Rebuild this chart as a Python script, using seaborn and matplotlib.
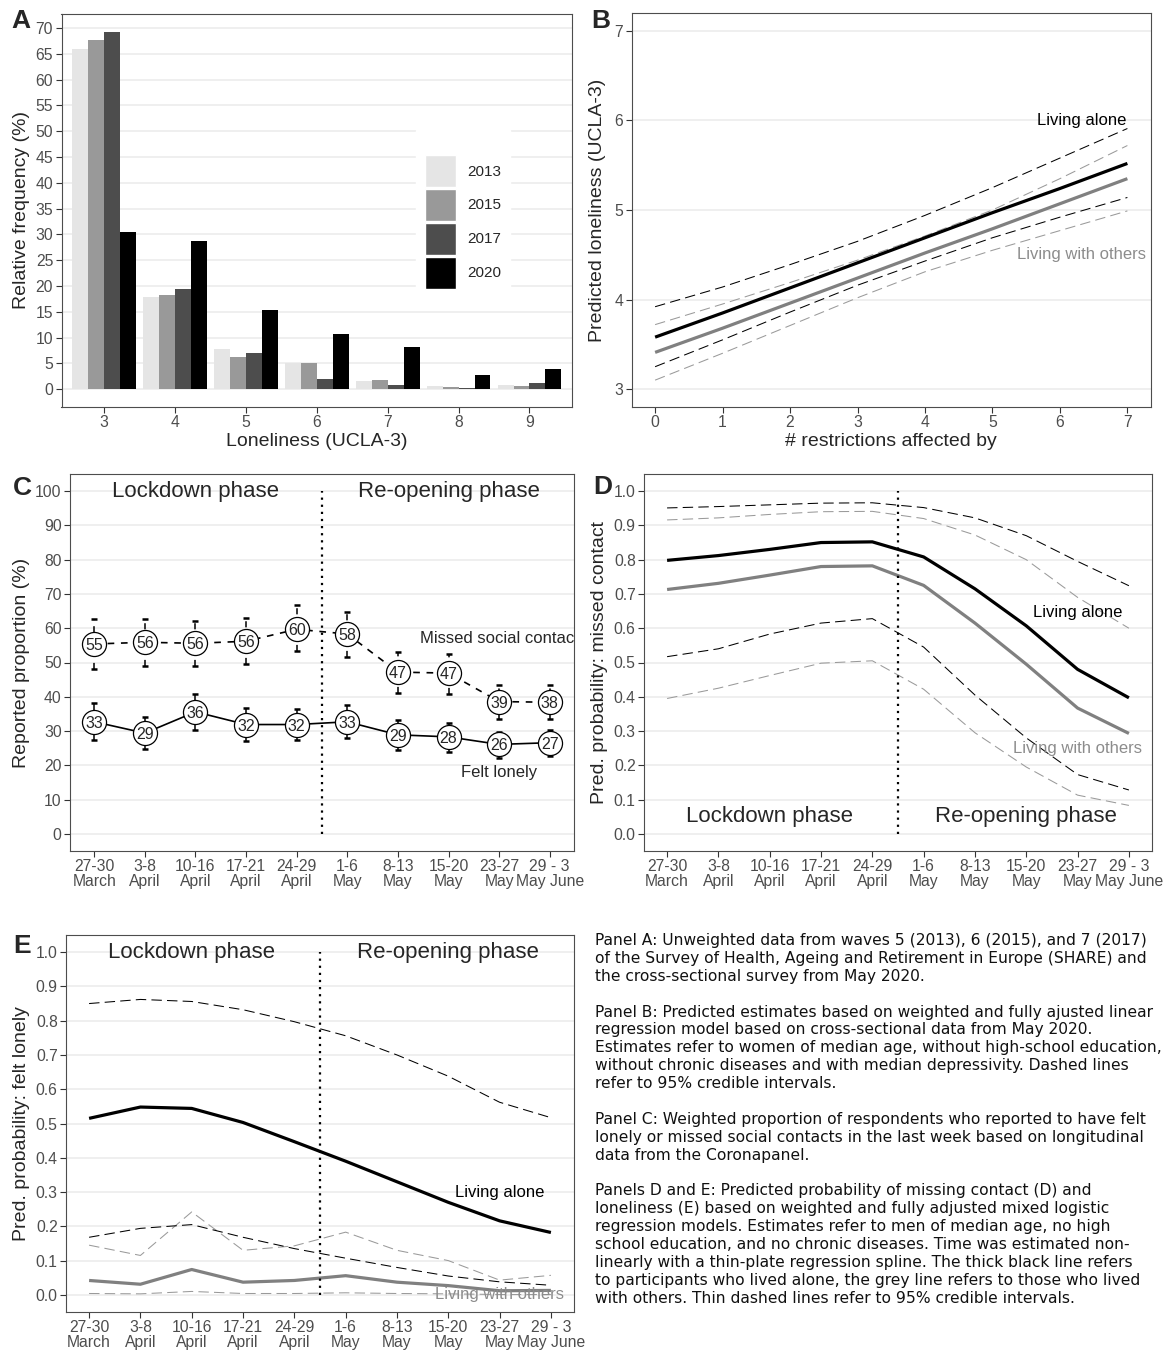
import numpy as np
import pandas as pd
import matplotlib
matplotlib.use("Agg")
import matplotlib.pyplot as plt
import seaborn as sns

# ---------------- data ----------------
# Panel A
scores = [3, 4, 5, 6, 7, 8, 9]
years = ["2013", "2015", "2017", "2020"]
freq_2013 = [66.0, 17.8, 7.8, 5.0, 1.6, 0.6, 0.8]
freq_2015 = [67.6, 18.2, 6.2, 5.0, 1.8, 0.4, 0.6]
freq_2017 = [69.3, 19.4, 7.0, 1.9, 0.8, 0.2, 1.1]
freq_2020 = [30.5, 28.7, 15.4, 10.7, 8.1, 2.7, 3.8]
year_colors = ["#e5e5e5", "#999999", "#4d4d4d", "#000000"]

# Panel B
restrictions = [0, 1, 2, 3, 4, 5, 6, 7]
b_alone = [3.58, 3.85, 4.13, 4.41, 4.69, 4.97, 5.24, 5.52]
b_alone_hi = [3.92, 4.14, 4.39, 4.65, 4.94, 5.25, 5.58, 5.91]
b_alone_lo = [3.25, 3.55, 3.86, 4.16, 4.43, 4.69, 4.92, 5.14]
b_others = [3.41, 3.68, 3.96, 4.24, 4.52, 4.79, 5.07, 5.35]
b_others_hi = [3.72, 3.95, 4.19, 4.44, 4.71, 5.00, 5.35, 5.72]
b_others_lo = [3.10, 3.40, 3.71, 4.02, 4.31, 4.55, 4.77, 4.99]

# Panels C-E: survey weeks
week_labels = ["27-30\nMarch", "3-8\nApril", "10-16\nApril", "17-21\nApril",
               "24-29\nApril", "1-6\nMay", "8-13\nMay", "15-20\nMay",
               "23-27\nMay", "29 - 3\nMay June"]
n_lockdown_weeks = 5

# Panel C
c_missed = [55.4, 55.9, 55.6, 56.2, 59.7, 58.3, 47.2, 46.9, 38.6, 38.4]
c_missed_hi = [62.6, 62.8, 62.1, 62.9, 66.7, 64.7, 53.2, 52.6, 43.5, 43.4]
c_missed_lo = [48.2, 49.1, 48.9, 49.6, 53.4, 51.6, 41.2, 40.9, 33.5, 33.5]
c_lonely = [32.7, 29.4, 35.6, 31.9, 31.9, 32.7, 28.9, 28.3, 26.1, 26.6]
c_lonely_hi = [38.1, 34.0, 40.7, 36.6, 36.5, 37.5, 33.2, 32.3, 29.8, 30.3]
c_lonely_lo = [27.4, 24.9, 30.4, 27.1, 27.3, 27.9, 24.6, 24.0, 22.1, 22.7]

# Panel D
d_alone = [0.798, 0.812, 0.830, 0.850, 0.852, 0.808, 0.715, 0.607, 0.480, 0.397]
d_alone_hi = [0.951, 0.955, 0.960, 0.965, 0.966, 0.952, 0.922, 0.870, 0.795, 0.724]
d_alone_lo = [0.517, 0.540, 0.583, 0.615, 0.628, 0.545, 0.405, 0.280, 0.173, 0.128]
d_others = [0.713, 0.731, 0.755, 0.780, 0.782, 0.725, 0.615, 0.495, 0.367, 0.293]
d_others_hi = [0.916, 0.922, 0.932, 0.940, 0.941, 0.920, 0.872, 0.800, 0.690, 0.600]
d_others_lo = [0.395, 0.425, 0.462, 0.498, 0.505, 0.422, 0.295, 0.195, 0.113, 0.083]

# Panel E
e_alone = [0.515, 0.548, 0.544, 0.503, 0.447, 0.390, 0.330, 0.270, 0.216, 0.182]
e_alone_hi = [0.850, 0.862, 0.856, 0.832, 0.797, 0.756, 0.700, 0.638, 0.562, 0.517]
e_alone_lo = [0.168, 0.194, 0.205, 0.168, 0.135, 0.107, 0.080, 0.055, 0.038, 0.028]
e_others = [0.042, 0.031, 0.074, 0.037, 0.042, 0.056, 0.037, 0.027, 0.012, 0.013]
e_others_hi = [0.145, 0.115, 0.242, 0.130, 0.143, 0.183, 0.130, 0.100, 0.043, 0.057]
e_others_lo = [0.004, 0.003, 0.010, 0.004, 0.004, 0.006, 0.004, 0.003, 0.001, 0.001]

caption = (
    "Panel A: Unweighted data from waves 5 (2013), 6 (2015), and 7 (2017)\n"
    "of the Survey of Health, Ageing and Retirement in Europe (SHARE) and\n"
    "the cross-sectional survey from May 2020.\n"
    "\n"
    "Panel B: Predicted estimates based on weighted and fully ajusted linear\n"
    "regression model based on cross-sectional data from May 2020.\n"
    "Estimates refer to women of median age, without high-school education,\n"
    "without chronic diseases and with median depressivity. Dashed lines\n"
    "refer to 95% credible intervals.\n"
    "\n"
    "Panel C: Weighted proportion of respondents who reported to have felt\n"
    "lonely or missed social contacts in the last week based on longitudinal\n"
    "data from the Coronapanel.\n"
    "\n"
    "Panels D and E: Predicted probability of missing contact (D) and\n"
    "loneliness (E) based on weighted and fully adjusted mixed logistic\n"
    "regression models. Estimates refer to men of median age, no high\n"
    "school education, and no chronic diseases. Time was estimated non-\n"
    "linearly with a thin-plate regression spline. The thick black line refers\n"
    "to participants who lived alone, the grey line refers to those who lived\n"
    "with others. Thin dashed lines refer to 95% credible intervals."
)

# ---------------- style ----------------
sns.set_theme(style="white")
plt.rcParams["font.family"] = ["Liberation Sans", "DejaVu Sans"]

W, H = 1163, 1353
fig = plt.figure(figsize=(W / 100, H / 100), dpi=100)
fig.patch.set_facecolor("white")

BLACK = "#000000"
GREY = "#808080"
GREY_D = "#9a9a9a"
LABEL_GREY = "#8c8c8c"
DASH = (10, 5)
TICK_SIZE = 11.3


def px_axes(l, t, r, b):
    return fig.add_axes([l / W, 1 - b / H, (r - l) / W, (b - t) / H])


def style(ax):
    ax.set_facecolor("white")
    for s in ax.spines.values():
        s.set_color("#4d4d4d")
        s.set_linewidth(0.8)
        s.set_visible(True)
    ax.grid(axis="y", color="#ebebeb", lw=1.1)
    ax.grid(axis="x", visible=False)
    ax.set_axisbelow(True)
    ax.tick_params(axis="both", which="major", length=4, width=0.8,
                   color="#333333", labelcolor="#4d4d4d", labelsize=TICK_SIZE,
                   pad=2, bottom=True, left=True)


def line(ax, x, y, color, lw, dash=None, z=2):
    sns.lineplot(x=x, y=y, color=color, linewidth=lw, ax=ax,
                 errorbar=None, legend=False, zorder=z)
    ln = ax.lines[-1]
    if dash is not None:
        ln.set_linestyle((0, dash))
    ln.set_solid_capstyle("butt")
    ln.set_solid_joinstyle("round")


# ---------------- Panel A ----------------
axA = px_axes(61.5, 13.7, 572, 407)
dfA = pd.DataFrame({"score": scores, "2013": freq_2013, "2015": freq_2015,
                    "2017": freq_2017, "2020": freq_2020})
dfA = dfA.melt(id_vars="score", var_name="year", value_name="freq")
sns.barplot(data=dfA, x="score", y="freq", hue="year", hue_order=years,
            palette=year_colors, saturation=1, width=0.9, gap=0,
            linewidth=0, ax=axA)
style(axA)
axA.set_xlim(-0.6, len(scores) - 0.4)
axA.set_ylim(-3.47, 72.77)
axA.set_yticks(np.arange(0, 71, 5))
axA.set_xlabel("Loneliness (UCLA-3)", fontsize=14, labelpad=2)
axA.set_ylabel("Relative frequency (%)", fontsize=14, labelpad=4)
h, l = axA.get_legend_handles_labels()
axA.get_legend().remove()
leg = axA.legend(h, l, loc="upper left", bbox_to_anchor=(416 / W, 1 - 130 / H),
                 bbox_transform=fig.transFigure, fontsize=11, title=" ",
                 title_fontsize=11, frameon=True, fancybox=False,
                 framealpha=1, edgecolor="white", facecolor="white",
                 handlelength=2.0, handleheight=2.85, labelspacing=0.12,
                 handletextpad=0.75, borderpad=0.6, borderaxespad=0)
for p in leg.get_patches():
    p.set_edgecolor("white")
    p.set_linewidth(1)

# ---------------- Panel B ----------------
axB = px_axes(631.5, 13, 1151, 407)
style(axB)
line(axB, restrictions, b_others_lo, GREY_D, 0.75, DASH)
line(axB, restrictions, b_others_hi, GREY_D, 0.75, DASH)
line(axB, restrictions, b_alone_lo, BLACK, 0.75, DASH)
line(axB, restrictions, b_alone_hi, BLACK, 0.75, DASH)
line(axB, restrictions, b_others, GREY, 2.3, None, 3)
line(axB, restrictions, b_alone, BLACK, 2.3, None, 4)
axB.set_xlim(-0.35, 7.35)
axB.set_ylim(2.8, 7.2)
axB.set_xticks(restrictions)
axB.set_yticks([3, 4, 5, 6, 7])
axB.set_xlabel("# restrictions affected by", fontsize=14, labelpad=2)
axB.set_ylabel("Predicted loneliness (UCLA-3)", fontsize=14, labelpad=6)
axB.text(6.32, 6.0, "Living alone", ha="center", va="center", fontsize=12, color=BLACK)
axB.text(6.32, 4.5, "Living with others", ha="center", va="center", fontsize=12,
         color=LABEL_GREY)

# ---------------- common for C-E ----------------
t = np.arange(1, len(week_labels) + 1)
split = n_lockdown_weeks + 0.5
lock_center = np.mean(t[:n_lockdown_weeks])
reopen_center = np.mean(t[n_lockdown_weeks:])


def time_axis(ax, lo_pad):
    ax.set_xlim(1 - lo_pad, len(week_labels) + lo_pad)
    ax.set_xticks(t)
    ax.set_xticklabels(week_labels, linespacing=0.95)


# ---------------- Panel C ----------------
axC = px_axes(70, 474, 574, 851)
style(axC)
eb1 = axC.errorbar(t, c_missed, yerr=[np.array(c_missed) - np.array(c_missed_lo),
                                      np.array(c_missed_hi) - np.array(c_missed)],
                   fmt="none", ecolor=BLACK, elinewidth=1.1, capsize=2.2,
                   capthick=1.8, zorder=2)
eb1[2][0].set_linestyle((0, (4, 4)))
eb2 = axC.errorbar(t, c_lonely, yerr=[np.array(c_lonely) - np.array(c_lonely_lo),
                                      np.array(c_lonely_hi) - np.array(c_lonely)],
                   fmt="none", ecolor=BLACK, elinewidth=1.1, capsize=2.2,
                   capthick=1.8, zorder=2)
line(axC, t, c_missed, BLACK, 1.2, (4, 4), 2)
line(axC, t, c_lonely, BLACK, 1.2, None, 2)
for series in (c_missed, c_lonely):
    sns.scatterplot(x=t, y=series, s=300, color="white", edgecolor=BLACK,
                    linewidth=0.9, ax=axC, zorder=4, legend=False)
    for xi, v in zip(t, series):
        axC.text(xi, v, f"{v:.0f}", ha="center", va="center_baseline",
                 fontsize=11.5, zorder=5)
axC.vlines(split, 0, 100, colors=BLACK, linewidth=1.6, linestyles=(0, (1, 2.2)))
axC.set_ylim(-5, 105)
axC.set_yticks(np.arange(0, 101, 10))
time_axis(axC, 0.48)
axC.set_ylabel("Reported proportion (%)", fontsize=14, labelpad=4)
axC.text(lock_center, 100, "Lockdown phase", ha="center", va="center", fontsize=16)
axC.text(reopen_center, 100, "Re-opening phase", ha="center", va="center", fontsize=16)
axC.text(t[8], 57, "Missed social contact", ha="center", va="center",
         fontsize=12, clip_on=True)
axC.text(t[8], 18, "Felt lonely", ha="center", va="center", fontsize=12)


# ---------------- Panels D & E ----------------
def prob_panel(ax, alone, alone_hi, alone_lo, others, others_hi, others_lo,
               ylabel, phase_y, alone_y, others_y):
    style(ax)
    line(ax, t, others_lo, GREY_D, 0.75, DASH)
    line(ax, t, others_hi, GREY_D, 0.75, DASH)
    line(ax, t, alone_lo, BLACK, 0.75, DASH)
    line(ax, t, alone_hi, BLACK, 0.75, DASH)
    line(ax, t, others, GREY, 2.3, None, 3)
    line(ax, t, alone, BLACK, 2.3, None, 4)
    ax.vlines(split, 0, 1, colors=BLACK, linewidth=1.6, linestyles=(0, (1, 2.2)),
              zorder=5)
    ax.set_ylim(-0.05, 1.05)
    ax.set_yticks(np.round(np.arange(0, 1.01, 0.1), 1))
    ax.yaxis.set_major_formatter(matplotlib.ticker.StrMethodFormatter("{x:.1f}"))
    time_axis(ax, 0.45)
    ax.set_ylabel(ylabel, fontsize=14, labelpad=4)
    ax.text(lock_center, phase_y, "Lockdown phase", ha="center", va="center", fontsize=16)
    ax.text(reopen_center, phase_y, "Re-opening phase", ha="center", va="center", fontsize=16)
    ax.text(t[8], alone_y, "Living alone", ha="center", va="center", fontsize=12,
            color=BLACK, zorder=6)
    ax.text(t[8], others_y, "Living with others", ha="center", va="center",
            fontsize=12, color=LABEL_GREY, zorder=6)


axD = px_axes(644, 474, 1152, 851)
prob_panel(axD, d_alone, d_alone_hi, d_alone_lo, d_others, d_others_hi, d_others_lo,
           "Pred. probability: missed contact", 0.05, 0.645, 0.25)

axE = px_axes(66, 935, 574, 1312)
prob_panel(axE, e_alone, e_alone_hi, e_alone_lo, e_others, e_others_hi, e_others_lo,
           "Pred. probability: felt lonely", 1.0, 0.30, 0.0)

# ---------------- panel letters & caption ----------------
for letter, (px, py) in {"A": (21, 21), "B": (601, 21), "C": (22, 488),
                         "D": (603, 487), "E": (22, 946)}.items():
    fig.text(px / W, 1 - py / H, letter, ha="center", va="center",
             fontsize=19, fontweight="bold")

fig.text(595 / W, 1 - 933 / H, caption, ha="left", va="top", fontsize=11.2,
         family="DejaVu Sans", linespacing=1.24, color="#111111")

fig.savefig("out.png", dpi=100, facecolor="white")
